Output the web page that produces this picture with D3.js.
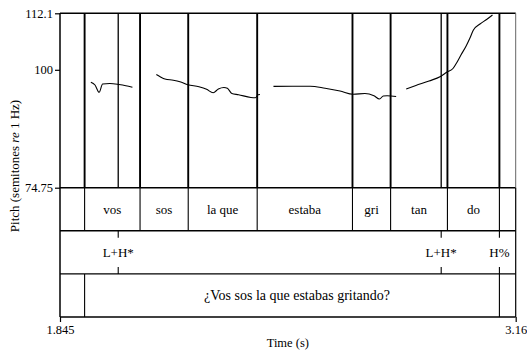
<!DOCTYPE html>
<html>
<head>
<meta charset="utf-8">
<script src="https://cdn.jsdelivr.net/npm/d3@7"></script>
<style>
  html, body { margin: 0; padding: 0; background: #fff; }
  svg { display: block; }
  text { font-family: "Liberation Serif", "Times New Roman", serif; fill: #000; }
</style>
</head>
<body>
<svg id="chart" width="527" height="352"></svg>
<script>
// ---------- data ----------
const xDomain = [1.845, 3.16];
const yDomain = [74.75, 112.1];
const xTickLabels = ["1.845", "3.16"];
const yTicks = [74.75, 100, 112.1];
const yTickLabels = ["74.75", "100", "112.1"];

const wordBounds = [1.916, 2.076, 2.215, 2.414, 2.689, 2.799, 2.963, 3.113];
const words = ["vos", "sos", "la que", "estaba", "gri", "tan", "do"];
const tonePoints = [2.013, 2.945, 3.113];
const toneLabels = ["L+H*", "L+H*", "H%"];
const sentenceBounds = [1.916, 3.113];
const sentence = ["¿Vos sos la que estabas gritando?"];

const seg1T = [1.934, 1.946, 1.958, 1.968, 1.989, 2.015, 2.035, 2.054];
const seg1P = [97.32, 96.74, 95.18, 96.96, 97.06, 96.85, 96.59, 96.25];
const seg2T = [2.123, 2.134, 2.148, 2.172, 2.191, 2.214, 2.246, 2.268, 2.287, 2.302, 2.318, 2.328, 2.341, 2.360, 2.396, 2.409, 2.417, 2.422];
const seg2P = [98.99, 98.52, 98.03, 97.77, 97.45, 96.81, 96.36, 95.82, 95.09, 95.89, 96.21, 96.04, 94.92, 94.67, 94.07, 94.02, 94.67, 94.71];
const seg3T = [2.461, 2.515, 2.567, 2.610, 2.653, 2.691, 2.725, 2.751, 2.767, 2.778, 2.789, 2.815];
const seg3P = [96.46, 96.48, 96.48, 96.04, 95.46, 94.77, 94.92, 94.43, 93.74, 94.39, 94.43, 94.28];
const seg4T = [2.844, 2.872, 2.910, 2.943, 2.962, 2.979, 2.991, 3.002, 3.017, 3.028, 3.038, 3.057, 3.076, 3.093];
const seg4P = [95.89, 96.64, 97.60, 98.56, 99.53, 100.28, 101.67, 103.17, 105.10, 106.81, 108.52, 109.81, 110.77, 111.74];

// ---------- layout ----------
const L = 60, R = 515.7, T = 13.3, PB = 187.7;
const tierH = (317 - PB) / 3;
const tier1Top = PB, tier2Top = PB + tierH, tier3Top = PB + 2 * tierH, tierBottom = 317;

const svg = d3.select("#chart");
const x = d3.scaleLinear().domain(xDomain).range([L, R]);
const y = d3.scaleLinear().domain(yDomain).range([PB, T]);

const FS = 13;

// pitch panel vertical lines
const pitchLines = wordBounds.map(t => ({t, w: 1.9})).concat(
  tonePoints.filter(t => !wordBounds.includes(t)).map(t => ({t, w: 1.3})));
svg.append("g").selectAll("line").data(pitchLines).join("line")
  .attr("x1", d => x(d.t)).attr("x2", d => x(d.t))
  .attr("y1", T).attr("y2", PB)
  .attr("stroke", "#000").attr("stroke-width", d => d.w);

// pitch contour
const segs = [[seg1T, seg1P], [seg2T, seg2P], [seg3T, seg3P], [seg4T, seg4P]]
  .map(([ts, ps]) => ts.map((t, i) => [t, ps[i]]));
const line = d3.line().x(d => x(d[0])).y(d => y(d[1])).curve(d3.curveMonotoneX);
svg.append("g").selectAll("path").data(segs).join("path")
  .attr("d", line).attr("fill", "none").attr("stroke", "#000").attr("stroke-width", 1.1);

// tier 1 boundaries and labels
svg.append("g").selectAll("line").data(wordBounds).join("line")
  .attr("x1", d => x(d)).attr("x2", d => x(d))
  .attr("y1", tier1Top).attr("y2", tier2Top)
  .attr("stroke", "#000").attr("stroke-width", 1.1);
svg.append("g").selectAll("text").data(words).join("text")
  .attr("x", (d, i) => (x(wordBounds[i]) + x(wordBounds[i + 1])) / 2)
  .attr("y", (tier1Top + tier2Top) / 2)
  .attr("dy", "0.35em").attr("text-anchor", "middle")
  .attr("font-size", FS).text(d => d);

// tier 2 points
const tick = 7;
const tg = svg.append("g");
tg.selectAll("line.top").data(tonePoints).join("line").attr("class", "top")
  .attr("x1", d => x(d)).attr("x2", d => x(d))
  .attr("y1", tier2Top).attr("y2", tier2Top + tick)
  .attr("stroke", "#000").attr("stroke-width", 1.1);
tg.selectAll("line.bot").data(tonePoints).join("line").attr("class", "bot")
  .attr("x1", d => x(d)).attr("x2", d => x(d))
  .attr("y1", tier3Top - tick).attr("y2", tier3Top)
  .attr("stroke", "#000").attr("stroke-width", 1.1);
tg.selectAll("text").data(toneLabels).join("text")
  .attr("x", (d, i) => x(tonePoints[i]))
  .attr("y", (tier2Top + tier3Top) / 2)
  .attr("dy", "0.35em").attr("text-anchor", "middle")
  .attr("font-size", FS).text(d => d);

// tier 3
svg.append("g").selectAll("line").data(sentenceBounds).join("line")
  .attr("x1", d => x(d)).attr("x2", d => x(d))
  .attr("y1", tier3Top).attr("y2", tierBottom)
  .attr("stroke", "#000").attr("stroke-width", 1.1);
svg.append("g").selectAll("text").data(sentence).join("text")
  .attr("x", (d, i) => (x(sentenceBounds[i]) + x(sentenceBounds[i + 1])) / 2 + 5)
  .attr("y", (tier3Top + tierBottom) / 2)
  .attr("dy", "0.35em").attr("text-anchor", "middle")
  .attr("font-size", 14).text(d => d);

// horizontal frame lines
const hLines = [T, tier1Top, tier2Top, tier3Top, tierBottom];
svg.append("g").selectAll("line").data(hLines).join("line")
  .attr("x1", L).attr("x2", R).attr("y1", d => d).attr("y2", d => d)
  .attr("stroke", "#000").attr("stroke-width", 1.4);
// right edge
svg.append("line").attr("x1", R).attr("x2", R).attr("y1", T).attr("y2", PB)
  .attr("stroke", "#666").attr("stroke-width", 1);
svg.append("line").attr("x1", R).attr("x2", R).attr("y1", PB).attr("y2", tierBottom)
  .attr("stroke", "#000").attr("stroke-width", 1.2);

// y axis
const yAxis = d3.axisLeft(y).tickValues(yTicks)
  .tickFormat((d, i) => yTickLabels[i]).tickSize(5).tickPadding(2);
const yg = svg.append("g").attr("transform", `translate(${L},0)`).call(yAxis);
yg.select(".domain").remove();
yg.selectAll(".tick line").attr("stroke", "#000").attr("stroke-width", 1.2);
yg.selectAll(".tick text").attr("font-size", 12.5)
  .attr("font-family", "Liberation Serif, serif").attr("fill", "#000");
svg.append("line").attr("x1", L).attr("x2", L).attr("y1", T).attr("y2", tierBottom)
  .attr("stroke", "#000").attr("stroke-width", 1.5);

// x axis ticks
const xAxis = d3.axisBottom(x).tickValues(xDomain)
  .tickFormat((d, i) => xTickLabels[i]).tickSize(5).tickPadding(3);
const xg = svg.append("g").attr("transform", `translate(0,${tierBottom})`).call(xAxis);
xg.select(".domain").remove();
xg.selectAll(".tick line").attr("stroke", "#000").attr("stroke-width", 1.2);
xg.selectAll(".tick text").attr("font-size", 12.5)
  .attr("font-family", "Liberation Serif, serif").attr("fill", "#000");

// axis titles
svg.append("text").attr("x", (L + R) / 2).attr("y", 347)
  .attr("text-anchor", "middle").attr("font-size", 12.5).text("Time (s)");
const yt = svg.append("text")
  .attr("transform", `translate(18.5,166) rotate(-90)`)
  .attr("text-anchor", "middle").attr("font-size", 13);
yt.append("tspan").text("Pitch (semitones ");
yt.append("tspan").attr("font-style", "italic").text("re");
yt.append("tspan").text(" 1 Hz)");
</script>
</body>
</html>
